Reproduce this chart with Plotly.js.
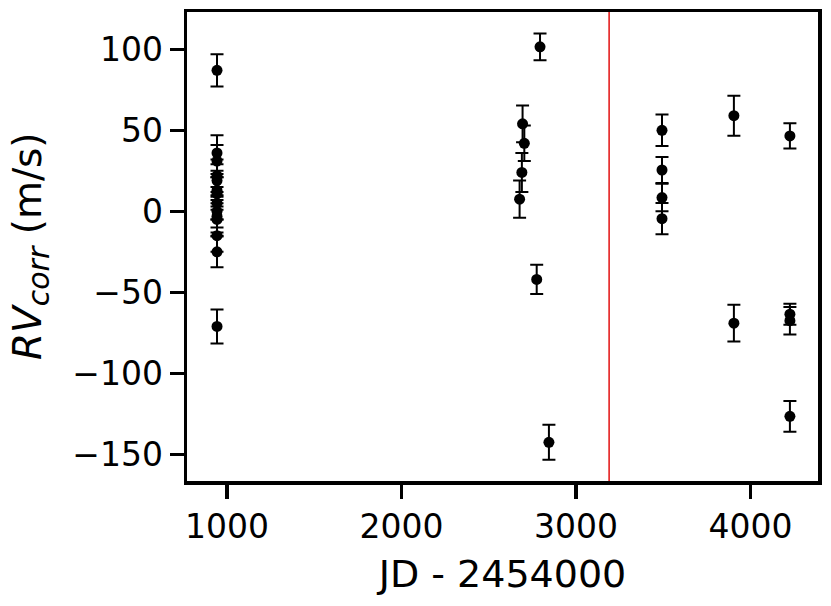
<!DOCTYPE html>
<html>
<head>
<meta charset="utf-8">
<script src="https://cdn.plot.ly/plotly-3.0.1.min.js"></script>
<style>html,body{margin:0;padding:0;background:#fff;}#chart{width:831px;height:606px;}</style>
</head>
<body>
<div id="chart"></div>
<script>
// Observation epochs (JD - 2454000)
const jd = [
  943, 943, 943, 943, 943, 943, 943, 943, 943, 943, 943, 943, 943, 943,
  2677, 2690, 2694, 2704, 2775, 2794, 2845,
  3493, 3493, 3493, 3493,
  3905, 3905,
  4226, 4226, 4226, 4226
];
// Corrected radial velocities (m/s)
const rv = [
  87, -71, 36, 31, 22, 19, 13, 11, 5, 0, -3, -5, -15, -25,
  7.5, 24, 54, 42, -42, 101.5, -142.5,
  50, 25.5, 8.5, -4.5,
  59, -69,
  46.5, -63.5, -67.5, -126.5
];
// Uncertainties (m/s)
const rvErr = [
  10, 10.5, 11, 10, 10, 10, 10, 10, 10, 10, 10, 10, 10, 9.5,
  11.5, 12, 11.3, 11, 9, 8.2, 10.8,
  9.7, 8, 8.5, 9.7,
  12.3, 11.3,
  7.8, 6.5, 8.5, 9.5
];
// Vertical reference epoch
const refEpoch = [3190];
const xTicks = [1000, 2000, 3000, 4000];
const yTicks = [-150, -100, -50, 0, 50, 100];
const yTitle = "<i>RV</i><sub><span style='font-size:30px'><i>corr</i></span></sub> (m/s)";

const font = {family: "DejaVu Sans", color: "#000"};

const trace = {
  x: jd, y: rv, type: "scatter", mode: "markers",
  marker: {color: "#000", size: 11},
  error_y: {type: "data", array: rvErr, visible: true, color: "#000", thickness: 2, width: 6.5},
  showlegend: false, hoverinfo: "x+y"
};

const layout = {
  width: 831, height: 606,
  margin: {l: 187, r: 13, t: 12, b: 125},
  paper_bgcolor: "#fff", plot_bgcolor: "#fff",
  font: font,
  xaxis: {
    range: [771, 4387], tickvals: xTicks, ticktext: xTicks.map(String),
    showgrid: false, zeroline: false,
    showline: true, mirror: true, linewidth: 3.5, linecolor: "#000",
    ticks: "outside", ticklen: 14, tickwidth: 3.5, tickcolor: "#000",
    tickfont: {family: "DejaVu Sans", size: 33, color: "#000"},
    title: {text: "JD - 2454000", font: {family: "DejaVu Sans", size: 38, color: "#000"}, standoff: 16}
  },
  yaxis: {
    range: [-166.4, 123], tickvals: yTicks, ticktext: yTicks.map(v => v < 0 ? "\u2212" + Math.abs(v) : String(v)),
    showgrid: false, zeroline: false,
    showline: true, mirror: true, linewidth: 3.5, linecolor: "#000",
    ticks: "outside", ticklen: 14, tickwidth: 3.5, tickcolor: "#000",
    tickfont: {family: "DejaVu Sans", size: 33, color: "#000"}
  },
  annotations: [{
    text: yTitle, xref: "paper", yref: "paper", x: -0.248, y: 0.5,
    xanchor: "center", yanchor: "middle", textangle: -90, showarrow: false,
    font: {family: "DejaVu Sans", size: 39, color: "#000"}
  }],
  shapes: refEpoch.map(v => ({
    type: "line", xref: "x", yref: "paper", x0: v, x1: v, y0: 0, y1: 1,
    line: {color: "#e41f1f", width: 1.6}, layer: "below"
  }))
};

Plotly.newPlot("chart", [trace], layout, {displayModeBar: false, staticPlot: true});
</script>
</body>
</html>
